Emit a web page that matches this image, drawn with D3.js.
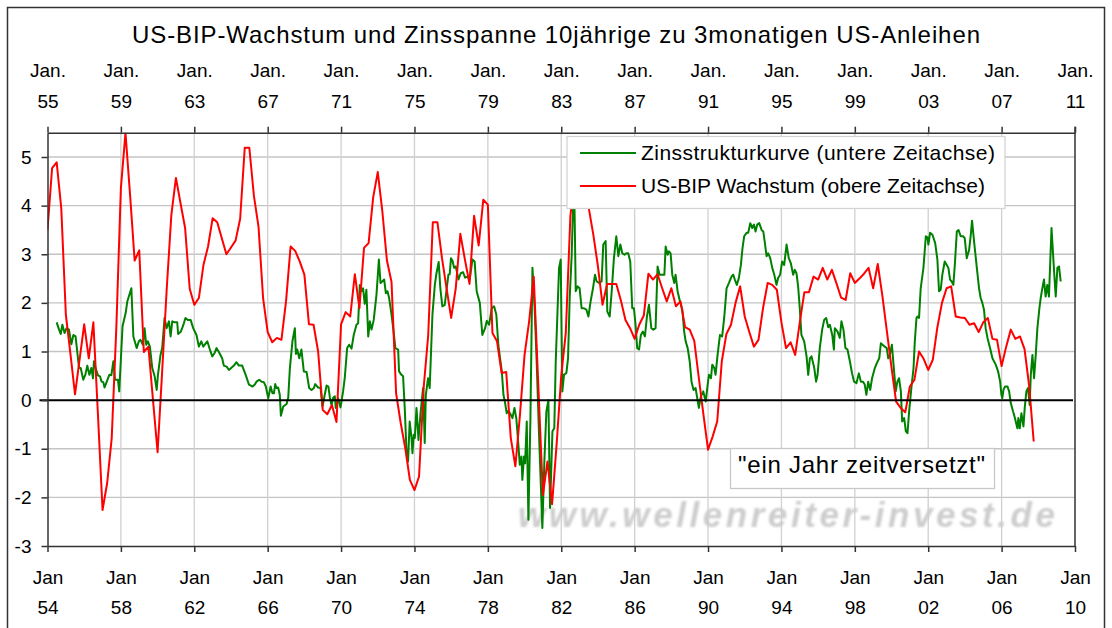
<!DOCTYPE html>
<html>
<head>
<meta charset="utf-8">
<title>US-BIP-Wachstum und Zinsspanne</title>
<script src="https://cdn.jsdelivr.net/npm/d3@7"></script>
<style>
  body { margin: 0; background: #fff; }
  svg { display: block; font-family: "Liberation Sans", Arial, sans-serif; }
</style>
</head>
<body>
<svg id="chart" width="1112" height="628"></svg>
<script>
// tick labels
const bottomTickYears = [1954, 1958, 1962, 1966, 1970, 1974, 1978, 1982, 1986, 1990, 1994, 1998, 2002, 2006, 2010];
const topTickYears = [1955, 1959, 1963, 1967, 1971, 1975, 1979, 1983, 1987, 1991, 1995, 1999, 2003, 2007, 2011];
const yTicks = [-3, -2, -1, 0, 1, 2, 3, 4, 5];

// US-BIP Wachstum, quarterly, starting Q1 1955 (upper time axis)
const gdpStart = 1955;
const gdpGrowth = [
  3.5, 4.77, 4.89, 3.95, 1.76, 0.95, 0.12, 0.84, 1.56, 0.86, 1.6, -0.3,
  -2.26, -1.71, -0.78, 1.48, 4.36, 5.5, 4.22, 2.87, 3.08, 0.99, 1.1, 0.0,
  -1.07, 0.6, 2.3, 3.81, 4.57, 4.05, 3.54, 2.29, 1.96, 2.1, 2.78, 3.16,
  3.74, 3.66, 3.33, 3.0, 3.14, 3.28, 3.73, 5.19, 5.19, 4.2, 3.57, 2.1,
  1.4, 1.19, 1.28, 1.24, 2.03, 3.16, 3.07, 2.85, 2.58, 1.56, 1.55, 1.0,
  -0.2, -0.29, -0.1, -0.45, 1.56, 1.81, 1.72, 2.59, 1.89, 3.13, 3.23, 4.17,
  4.69, 3.88, 2.87, 2.43, 0.14, -0.47, -0.99, -1.64, -1.85, -1.57, 0.25, 1.34,
  3.66, 3.66, 2.92, 2.3, 1.69, 2.3, 3.42, 2.89, 2.39, 3.79, 3.18, 4.12,
  4.02, 1.38, 1.21, 0.56, 0.58, -0.78, -1.36, -0.3, 0.93, 1.62, 2.54, 0.3,
  -1.95, -1.26, -2.14, -0.9, 0.5, 1.4, 3.8, 4.6, 4.5, 4.3, 3.95, 3.4,
  2.75, 1.96, 2.39, 2.39, 2.39, 2.05, 1.65, 1.48, 1.26, 1.55, 1.74, 2.6,
  2.48, 2.59, 2.3, 2.03, 2.3, 1.93, 2.03, 1.5, 1.45, 1.22, 0.45, -0.3,
  -1.02, -0.75, -0.44, 0.8, 1.36, 1.55, 2.0, 2.34, 1.72, 1.4, 1.1, 1.24,
  1.9, 2.41, 2.37, 2.27, 1.6, 1.07, 1.19, 0.93, 1.6, 2.22, 2.22, 2.54,
  2.48, 2.72, 2.48, 2.68, 2.4, 2.11, 2.06, 2.61, 2.41, 2.5, 2.6, 2.72,
  2.3, 2.8, 2.15, 1.41, 0.67, -0.03, -0.16, -0.25, 0.28, 0.42, 1.0, 0.85,
  0.62, 0.83, 1.5, 2.0, 2.3, 2.34, 1.72, 1.7, 1.69, 1.55, 1.58, 1.4,
  1.6, 1.69, 1.26, 1.24, 0.7, 1.1, 1.45, 1.26, 1.31, 1.05, 0.3, -0.85
];

// Zinsstrukturkurve (10y minus 3m), lower time axis
const spreadDates = [
  1954.50, 1954.63, 1954.72, 1954.81, 1954.93, 1955.04, 1955.17, 1955.30, 1955.41, 1955.53, 1955.62, 1955.72,
  1955.81, 1955.95, 1956.06, 1956.17, 1956.28, 1956.39, 1956.48, 1956.53, 1956.62, 1956.75, 1956.86, 1956.95,
  1957.04, 1957.11, 1957.22, 1957.37, 1957.48, 1957.59, 1957.68, 1957.84, 1957.91, 1958.09, 1958.26, 1958.35,
  1958.57, 1958.68, 1958.86, 1958.98, 1959.07, 1959.20, 1959.29, 1959.38, 1959.47, 1959.58, 1959.71, 1959.84,
  1959.95, 1960.02, 1960.16, 1960.25, 1960.38, 1960.49, 1960.62, 1960.71, 1960.80, 1960.93, 1961.07, 1961.12,
  1961.25, 1961.34, 1961.43, 1961.52, 1961.65, 1961.80, 1961.94, 1962.12, 1962.25, 1962.38, 1962.49, 1962.71,
  1962.85, 1962.98, 1963.11, 1963.21, 1963.34, 1963.52, 1963.61, 1963.76, 1963.89, 1964.01, 1964.16, 1964.30,
  1964.43, 1964.61, 1964.79, 1964.98, 1965.18, 1965.30, 1965.39, 1965.54, 1965.67, 1965.79, 1965.90, 1966.03,
  1966.16, 1966.26, 1966.34, 1966.41, 1966.48, 1966.57, 1966.66, 1966.72, 1966.85, 1967.03, 1967.12, 1967.21,
  1967.35, 1967.48, 1967.54, 1967.61, 1967.72, 1967.84, 1967.97, 1968.12, 1968.26, 1968.39, 1968.52, 1968.59,
  1968.75, 1968.88, 1968.99, 1969.11, 1969.21, 1969.31, 1969.39, 1969.48, 1969.57, 1969.66, 1969.71, 1969.84,
  1969.97, 1970.11, 1970.20, 1970.33, 1970.44, 1970.57, 1970.69, 1970.84, 1970.93, 1971.02, 1971.11, 1971.20,
  1971.29, 1971.38, 1971.48, 1971.57, 1971.66, 1971.78, 1971.93, 1972.06, 1972.15, 1972.24, 1972.35, 1972.44,
  1972.53, 1972.62, 1972.75, 1972.84, 1972.96, 1973.11, 1973.16, 1973.29, 1973.38, 1973.47, 1973.56, 1973.65,
  1973.74, 1973.84, 1973.89, 1973.96, 1974.02, 1974.11, 1974.22, 1974.33, 1974.47, 1974.56, 1974.62, 1974.74,
  1974.83, 1974.98, 1975.11, 1975.20, 1975.32, 1975.41, 1975.52, 1975.65, 1975.74, 1975.85, 1975.92, 1975.99,
  1976.07, 1976.16, 1976.25, 1976.40, 1976.52, 1976.65, 1976.76, 1976.89, 1977.01, 1977.16, 1977.28, 1977.39,
  1977.56, 1977.70, 1977.85, 1977.94, 1978.07, 1978.21, 1978.34, 1978.46, 1978.57, 1978.66, 1978.76, 1978.85,
  1978.94, 1979.03, 1979.12, 1979.21, 1979.34, 1979.45, 1979.55, 1979.65, 1979.74, 1979.83, 1979.88, 1979.97,
  1980.03, 1980.12, 1980.21, 1980.32, 1980.43, 1980.55, 1980.66, 1980.79, 1980.97, 1981.08, 1981.19, 1981.30,
  1981.39, 1981.52, 1981.62, 1981.70, 1981.79, 1981.88, 1981.97, 1982.06, 1982.15, 1982.28, 1982.37, 1982.46,
  1982.57, 1982.64, 1982.71, 1982.79, 1982.89, 1983.00, 1983.11, 1983.24, 1983.37, 1983.48, 1983.60, 1983.73,
  1983.84, 1983.93, 1984.06, 1984.20, 1984.29, 1984.42, 1984.51, 1984.64, 1984.75, 1984.87, 1985.00, 1985.11,
  1985.22, 1985.33, 1985.45, 1985.55, 1985.65, 1985.76, 1985.87, 1985.96, 1986.05, 1986.14, 1986.24, 1986.34,
  1986.45, 1986.56, 1986.67, 1986.78, 1986.91, 1987.02, 1987.14, 1987.25, 1987.36, 1987.47, 1987.62, 1987.69,
  1987.80, 1987.87, 1987.96, 1988.05, 1988.16, 1988.23, 1988.34, 1988.47, 1988.60, 1988.70, 1988.78, 1988.89,
  1989.00, 1989.10, 1989.21, 1989.32, 1989.43, 1989.50, 1989.61, 1989.74, 1989.87, 1989.98, 1990.05, 1990.16,
  1990.23, 1990.34, 1990.41, 1990.52, 1990.65, 1990.77, 1990.88, 1991.01, 1991.14, 1991.28, 1991.37, 1991.46,
  1991.57, 1991.68, 1991.79, 1991.88, 1991.97, 1992.10, 1992.19, 1992.30, 1992.41, 1992.50, 1992.59, 1992.68,
  1992.79, 1992.92, 1993.01, 1993.10, 1993.19, 1993.28, 1993.39, 1993.50, 1993.61, 1993.73, 1993.82, 1993.93,
  1994.04, 1994.15, 1994.28, 1994.40, 1994.51, 1994.64, 1994.73, 1994.82, 1994.91, 1995.00, 1995.09, 1995.24,
  1995.37, 1995.46, 1995.55, 1995.64, 1995.79, 1995.89, 1995.97, 1996.09, 1996.22, 1996.33, 1996.44, 1996.55,
  1996.64, 1996.77, 1996.86, 1996.91, 1997.06, 1997.18, 1997.27, 1997.38, 1997.49, 1997.60, 1997.73, 1997.85,
  1997.96, 1998.09, 1998.22, 1998.33, 1998.44, 1998.54, 1998.63, 1998.73, 1998.84, 1998.94, 1999.09, 1999.20,
  1999.33, 1999.42, 1999.51, 1999.63, 1999.74, 1999.82, 1999.91, 2000.02, 2000.11, 2000.23, 2000.32, 2000.41,
  2000.51, 2000.58, 2000.69, 2000.78, 2000.87, 2000.96, 2001.09, 2001.20, 2001.27, 2001.36, 2001.41, 2001.50,
  2001.59, 2001.74, 2001.87, 2001.96, 2002.01, 2002.10, 2002.23, 2002.38, 2002.50, 2002.59, 2002.68, 2002.77,
  2002.90, 2003.01, 2003.10, 2003.19, 2003.28, 2003.37, 2003.45, 2003.56, 2003.65, 2003.77, 2003.90, 2003.99,
  2004.10, 2004.23, 2004.32, 2004.39, 2004.50, 2004.65, 2004.77, 2004.86, 2004.95, 2005.04, 2005.13, 2005.23,
  2005.37, 2005.50, 2005.68, 2005.81, 2005.92, 2005.99, 2006.04, 2006.10, 2006.19, 2006.32, 2006.41, 2006.50,
  2006.62, 2006.68, 2006.77, 2006.86, 2006.91, 2006.99, 2007.08, 2007.19, 2007.26, 2007.35, 2007.44, 2007.53,
  2007.59, 2007.68, 2007.77, 2007.86, 2007.95, 2008.06, 2008.13, 2008.22, 2008.31, 2008.40, 2008.49, 2008.58,
  2008.72, 2008.86, 2008.95, 2009.04, 2009.13, 2009.22
];
const spreadValues = [
  1.6, 1.45, 1.36, 1.55, 1.38, 1.48, 1.45, 1.15, 1.34, 1.31, 1.0, 0.66,
  0.66, 0.42, 0.52, 0.71, 0.52, 0.66, 0.45, 0.8, 0.66, 0.51, 0.49, 0.38,
  0.37, 0.26, 0.37, 0.52, 0.51, 0.8, 0.42, 0.42, 0.18, 1.52, 1.79, 2.03,
  2.3, 1.31, 1.07, 1.21, 1.24, 1.14, 1.48, 1.14, 1.21, 1.1, 0.66, 0.49,
  0.21, 0.52, 0.93, 1.07, 1.69, 1.48, 1.62, 1.31, 1.62, 1.6, 1.6, 1.36,
  1.4, 1.48, 1.58, 1.69, 1.65, 1.65, 1.48, 1.34, 1.1, 1.21, 1.1, 1.21,
  1.04, 0.9, 0.97, 1.07, 0.99, 0.86, 0.71, 0.69, 0.62, 0.66, 0.71, 0.78,
  0.71, 0.71, 0.53, 0.32, 0.28, 0.32, 0.38, 0.42, 0.38, 0.37, 0.28, 0.04,
  0.28, 0.14, 0.14, 0.33, 0.25, 0.26, 0.11, -0.32, -0.13, -0.08, 0.05, 0.66,
  1.21, 1.48, 0.95, 1.04, 0.86, 1.04, 0.59, 0.58, 0.25, 0.21, 0.25, 0.33,
  0.26, 0.25, -0.13, 0.11, 0.3, 0.28, 0.05, -0.1, 0.05, 0.08, -0.16, 0.04,
  -0.15, 0.18, 0.45, 1.07, 1.14, 1.06, 1.34, 1.55, 1.58, 2.37, 2.24, 2.3,
  1.98, 2.27, 1.31, 1.62, 1.45, 1.65, 2.17, 2.89, 2.41, 2.44, 2.48, 2.2,
  2.24, 2.1, 1.76, 1.48, 1.07, 1.04, 0.59, 0.52, 0.49, -0.16, -0.99, -1.26,
  -0.44, -0.78, -1.09, -0.71, -0.78, -0.16, -0.82, -0.27, 0.25, -0.88, 0.11, 0.45,
  0.25, 1.76, 2.37, 2.61, 2.84, 2.3, 1.93, 1.96, 2.24, 2.58, 2.59, 2.92,
  2.87, 2.72, 2.75, 2.48, 2.61, 2.63, 2.52, 2.54, 2.48, 2.89, 2.85, 2.24,
  2.0, 1.34, 1.48, 1.63, 1.55, 1.89, 1.93, 1.76, 1.14, 0.88, 0.59, 0.11,
  -0.06, -0.27, -0.22, -0.27, -0.37, -0.16, -0.37, -0.85, -1.33, -1.16, -1.64, -1.16,
  -1.3, -0.44, -2.46, -0.37, 2.72, 1.89, 0.8, -0.71, -2.63, -1.26, -0.23, 0.0,
  -2.22, -0.64, -0.58, 0.8, 1.76, 2.72, 2.89, 0.18, 0.52, 0.56, 0.86, 2.1,
  2.99, 3.95, 4.3, 2.24, 2.34, 2.3, 1.89, 1.89, 1.86, 1.72, 2.03, 2.3,
  2.58, 2.44, 2.41, 2.44, 3.2, 3.27, 1.82, 1.72, 2.24, 2.92, 3.37, 2.96,
  3.2, 3.02, 2.99, 3.02, 3.02, 2.85, 1.89, 1.89, 1.55, 1.07, 1.04, 1.34,
  1.41, 1.31, 1.72, 1.96, 1.48, 1.45, 1.48, 2.75, 2.58, 2.58, 2.58, 3.16,
  2.99, 3.06, 3.02, 2.58, 2.41, 2.58, 2.24, 2.03, 1.86, 1.41, 1.21, 1.07,
  0.8, 0.38, 0.21, 0.25, 0.0, -0.16, 0.08, 0.18, -0.03, 0.32, 0.52, 0.45,
  0.73, 0.66, 0.52, 0.93, 1.34, 1.31, 1.69, 2.3, 2.41, 2.54, 2.58, 2.48,
  2.37, 2.51, 2.78, 3.13, 3.37, 3.44, 3.44, 3.64, 3.54, 3.61, 3.47, 3.61,
  3.64, 3.5, 3.47, 3.23, 2.96, 3.02, 2.92, 2.72, 2.58, 2.37, 2.51, 2.58,
  2.85, 2.78, 3.2, 2.92, 2.82, 2.58, 2.68, 2.61, 2.34, 1.89, 1.34, 1.21,
  0.9, 0.52, 0.86, 0.9, 0.66, 0.38, 0.52, 1.07, 1.45, 1.65, 1.69, 1.5,
  1.55, 1.34, 1.04, 1.48, 1.41, 1.28, 1.62, 1.45, 1.07, 1.04, 0.8, 0.55,
  0.38, 0.35, 0.55, 0.38, 0.38, 0.32, 0.11, 0.38, 0.21, 0.45, 0.66, 0.76,
  0.86, 1.17, 1.14, 1.1, 1.07, 0.86, 0.93, 1.14, 0.73, 0.18, 0.38, 0.45,
  0.18, -0.44, -0.37, -0.64, -0.68, -0.23, 0.28, 0.66, 1.21, 1.69, 1.72, 1.69,
  2.3, 2.72, 3.37, 3.35, 3.2, 3.44, 3.4, 3.23, 2.89, 2.24, 2.27, 2.58,
  2.85, 2.78, 2.72, 2.48, 2.44, 2.37, 2.78, 3.47, 3.5, 3.37, 3.37, 3.33,
  2.92, 3.09, 3.4, 3.69, 3.26, 2.72, 2.3, 2.1, 2.0, 1.86, 1.48, 1.28,
  1.07, 0.86, 0.73, 0.59, 0.38, 0.11, 0.04, 0.21, 0.28, 0.28, 0.18, -0.06,
  -0.23, -0.3, -0.44, -0.58, -0.37, -0.58, -0.27, -0.54, -0.16, 0.18, 0.25, -0.1,
  0.52, 0.93, 0.45, 0.93, 1.48, 1.89, 2.1, 2.3, 2.48, 2.13, 2.37, 2.13,
  3.54, 2.65, 2.13, 2.72, 2.75, 2.44
];

const svg = d3.select('#chart');

// plot area
const plotL = 47.5, plotR = 1075, plotT = 132.7, plotB = 546;

const xLower = d3.scaleLinear().domain([1954, 2010]).range([plotL, plotR]);
const xUpper = d3.scaleLinear().domain([1955, 2011]).range([plotL, plotR]);
const y = d3.scaleLinear().domain([-3, 5.5]).range([plotB, plotT]);

// outer frame
svg.append('rect')
    .attr('x', 7.5).attr('y', 7.5)
    .attr('width', 1097).attr('height', 640)
    .attr('fill', 'none').attr('stroke', '#333').attr('stroke-width', 1.5);

// title
svg.append('text')
    .attr('x', 556).attr('y', 43)
    .attr('text-anchor', 'middle')
    .attr('font-size', 24)
    .attr('textLength', 848)
    .text('US-BIP-Wachstum und Zinsspanne 10jährige zu 3monatigen US-Anleihen');

// grid
svg.append('g').selectAll('line')
    .data(yTicks.filter(d => d !== 0 && d !== -3))
    .join('line')
    .attr('x1', plotL).attr('x2', plotR)
    .attr('y1', d => y(d)).attr('y2', d => y(d))
    .attr('stroke', '#c4c4c4').attr('stroke-width', 1.3);

svg.append('g').selectAll('line')
    .data(bottomTickYears.slice(1, -1))
    .join('line')
    .attr('x1', d => xLower(d)).attr('x2', d => xLower(d))
    .attr('y1', plotT).attr('y2', plotB)
    .attr('stroke', '#d0d0d0').attr('stroke-width', 1.3);

// watermark
const defs = svg.append('defs');
defs.append('filter').attr('id', 'soft')
    .append('feGaussianBlur').attr('stdDeviation', 0.9);
defs.append('clipPath').attr('id', 'plot')
    .append('rect').attr('x', plotL).attr('y', plotT)
    .attr('width', plotR - plotL).attr('height', plotB - plotT);

svg.append('text')
    .attr('x', 518).attr('y', 527)
    .attr('font-size', 35)
    .attr('font-style', 'italic')
    .attr('font-weight', 'bold')
    .attr('fill', '#cdcdcd')
    .attr('filter', 'url(#soft)')
    .attr('textLength', 537)
    .text('www.wellenreiter-invest.de');

// series
const lines = svg.append('g').attr('clip-path', 'url(#plot)');

const spread = spreadDates.map((d, i) => [d, spreadValues[i]]);
lines.append('path')
    .datum(spread)
    .attr('fill', 'none')
    .attr('stroke', '#008000')
    .attr('stroke-width', 2)
    .attr('stroke-linejoin', 'round')
    .attr('d', d3.line().x(d => xLower(d[0])).y(d => y(d[1])));

lines.append('path')
    .datum(gdpGrowth)
    .attr('fill', 'none')
    .attr('stroke', '#ff0000')
    .attr('stroke-width', 2)
    .attr('stroke-linejoin', 'round')
    .attr('d', d3.line().x((d, i) => xUpper(gdpStart + i / 4)).y(d => y(d)));

// zero line
svg.append('line')
    .attr('x1', plotL - 8).attr('x2', plotR - 2)
    .attr('y1', y(0)).attr('y2', y(0))
    .attr('stroke', '#000').attr('stroke-width', 2);

// axes
const twoLine = (g, first, fmt, dy1, dy2) => {
  g.selectAll('.tick text').each(function (d) {
    const t = d3.select(this).text(null).attr('y', null).attr('dy', null);
    t.append('tspan').attr('x', 0).attr('y', dy1).text(first);
    t.append('tspan').attr('x', 0).attr('y', dy2).text(fmt(d));
  });
};
const yy = d => String(d).slice(2);

svg.append('g')
    .attr('transform', `translate(0,${plotB})`)
    .call(d3.axisBottom(xLower).tickValues(bottomTickYears).tickSize(6).tickSizeOuter(0))
    .call(g => g.select('.domain').attr('stroke', '#333').attr('stroke-width', 1.5))
    .call(g => g.selectAll('.tick line').attr('stroke', '#333').attr('stroke-width', 1.5))
    .call(g => g.selectAll('.tick text').attr('font-size', 19).attr('fill', '#000'))
    .call(g => g.attr('font-family', null))
    .call(g => twoLine(g, 'Jan', yy, 38, 68));

svg.append('g')
    .attr('transform', `translate(0,${plotT})`)
    .call(d3.axisTop(xUpper).tickValues(topTickYears).tickSize(6).tickSizeOuter(0))
    .call(g => g.select('.domain').attr('stroke', '#333').attr('stroke-width', 1.5))
    .call(g => g.selectAll('.tick line').attr('stroke', '#333').attr('stroke-width', 1.5))
    .call(g => g.selectAll('.tick text').attr('font-size', 19).attr('fill', '#000'))
    .call(g => g.attr('font-family', null))
    .call(g => twoLine(g, 'Jan.', yy, -56, -25));

svg.append('g')
    .attr('transform', `translate(${plotL},0)`)
    .call(d3.axisLeft(y).tickValues(yTicks).tickFormat(d => String(d)).tickSize(6).tickPadding(10).tickSizeOuter(0))
    .call(g => g.select('.domain').attr('stroke', '#333').attr('stroke-width', 1.5))
    .call(g => g.selectAll('.tick line').attr('stroke', '#333').attr('stroke-width', 1.5))
    .call(g => g.selectAll('.tick text').attr('font-size', 19).attr('fill', '#000'))
    .call(g => g.attr('font-family', null));

// right border
svg.append('line')
    .attr('x1', plotR).attr('x2', plotR)
    .attr('y1', plotT - 6).attr('y2', plotB)
    .attr('stroke', '#333').attr('stroke-width', 1.5);

// legend
const legend = svg.append('g');
legend.append('rect')
    .attr('x', 567).attr('y', 136.5).attr('width', 438).attr('height', 72)
    .attr('fill', '#fff').attr('stroke', '#d4d4d4').attr('stroke-width', 1.3);
const legendItems = [
  { label: 'Zinsstrukturkurve (untere Zeitachse)', color: '#008000', w: 354 },
  { label: 'US-BIP Wachstum (obere Zeitachse)', color: '#ff0000', w: 344 }
];
legendItems.forEach((it, i) => {
  const ly = 153 + i * 33;
  legend.append('line')
      .attr('x1', 580).attr('x2', 636).attr('y1', ly).attr('y2', ly)
      .attr('stroke', it.color).attr('stroke-width', 2);
  legend.append('text')
      .attr('x', 641).attr('y', ly + 7)
      .attr('font-size', 21)
      .attr('textLength', it.w)
      .text(it.label);
});

// annotation
svg.append('rect')
    .attr('x', 730.5).attr('y', 448.5).attr('width', 264).attr('height', 40)
    .attr('fill', '#fff').attr('stroke', '#c8c8c8').attr('stroke-width', 1.3);
svg.append('text')
    .attr('x', 738).attr('y', 473)
    .attr('font-size', 24)
    .attr('textLength', 247)
    .text('"ein Jahr zeitversetzt"');
</script>
</body>
</html>
